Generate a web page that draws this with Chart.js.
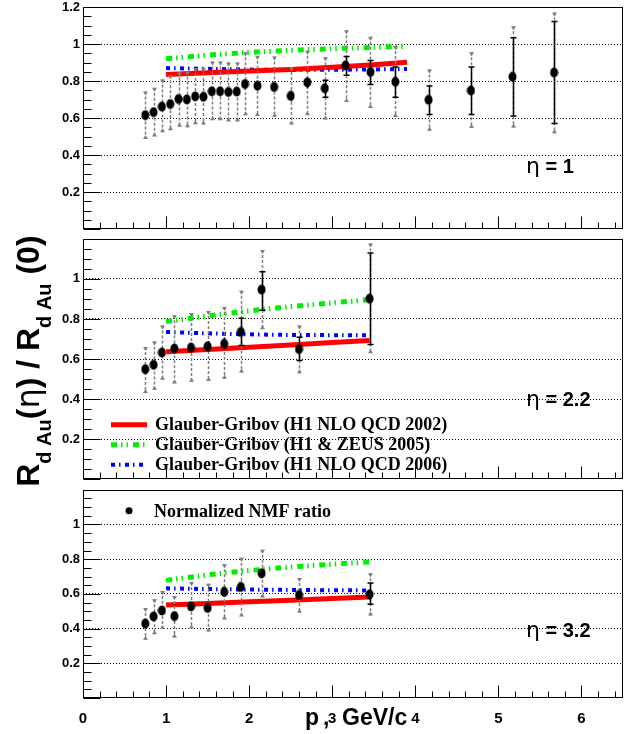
<!DOCTYPE html>
<html>
<head>
<meta charset="utf-8">
<title>R_dAu(eta) / R_dAu(0)</title>
<script src="https://cdn.jsdelivr.net/npm/chart.js@4.4.0/dist/chart.umd.min.js"></script>
<style>
  body { margin: 0; background: #fff; width: 629px; height: 734px; position: relative; overflow: hidden; }
  canvas { position: absolute; left: 0; }
  #eta1 { top: -5px; }
  #eta22 { top: 228px; }
  #eta32 { top: 479px; }
</style>
</head>
<body>
<canvas id="eta1" width="629" height="245"></canvas>
<canvas id="eta22" width="629" height="262"></canvas>
<canvas id="eta32" width="629" height="255"></canvas>
<script>
// ---- eta = 1 : normalized NMF ratio with stat / syst errors
const eta1X = [0.75, 0.85, 0.95, 1.05, 1.15, 1.25, 1.35, 1.45, 1.55, 1.65, 1.75, 1.85, 1.95, 2.1, 2.3, 2.5, 2.7, 2.91, 3.16, 3.46, 3.76, 4.16, 4.67, 5.17, 5.67];
const eta1Y = [0.616, 0.632, 0.662, 0.676, 0.703, 0.701, 0.717, 0.715, 0.745, 0.745, 0.741, 0.743, 0.784, 0.775, 0.768, 0.720, 0.793, 0.761, 0.884, 0.849, 0.796, 0.699, 0.749, 0.823, 0.846];
const eta1StatHi = [0.626, 0.642, 0.672, 0.686, 0.713, 0.711, 0.727, 0.725, 0.755, 0.755, 0.751, 0.753, 0.800, 0.790, 0.785, 0.746, 0.817, 0.805, 0.932, 0.911, 0.876, 0.773, 0.876, 1.034, 1.122];
const eta1StatLo = [0.606, 0.622, 0.652, 0.666, 0.693, 0.691, 0.707, 0.705, 0.735, 0.735, 0.731, 0.733, 0.768, 0.760, 0.752, 0.690, 0.761, 0.712, 0.831, 0.782, 0.712, 0.620, 0.620, 0.611, 0.571];
const eta1SysHi = [0.743, 0.764, 0.808, 0.831, 0.846, 0.852, 0.870, 0.870, 0.905, 0.905, 0.900, 0.900, 0.955, 0.937, 0.932, 0.876, 0.964, 0.929, 1.075, 1.040, 0.990, 0.863, 0.955, 1.096, 1.170];
const eta1SysLo = [0.487, 0.500, 0.523, 0.535, 0.553, 0.551, 0.567, 0.565, 0.588, 0.588, 0.582, 0.582, 0.616, 0.611, 0.607, 0.565, 0.616, 0.593, 0.687, 0.655, 0.606, 0.532, 0.546, 0.549, 0.518];

// ---- eta = 2.2
const eta22X = [0.75, 0.85, 0.95, 1.1, 1.3, 1.5, 1.7, 1.9, 2.15, 2.6, 3.45];
const eta22Y = [0.549, 0.571, 0.632, 0.652, 0.657, 0.663, 0.676, 0.735, 0.946, 0.649, 0.901];
const eta22StatHi = [0.559, 0.581, 0.642, 0.672, 0.675, 0.690, 0.705, 0.803, 1.036, 0.708, 1.129];
const eta22StatLo = [0.539, 0.561, 0.622, 0.632, 0.638, 0.636, 0.647, 0.668, 0.843, 0.592, 0.673];
const eta22SysHi = [0.660, 0.687, 0.767, 0.819, 0.830, 0.840, 0.859, 0.941, 1.144, 0.767, 1.176];
const eta22SysLo = [0.430, 0.446, 0.497, 0.478, 0.486, 0.490, 0.501, 0.533, 0.748, 0.529, 0.629];

// ---- eta = 3.2
const eta32X = [0.75, 0.85, 0.95, 1.1, 1.3, 1.5, 1.7, 1.9, 2.15, 2.6, 3.45];
const eta32Y = [0.429, 0.470, 0.504, 0.472, 0.528, 0.519, 0.611, 0.640, 0.719, 0.594, 0.597];
const eta32StatHi = [0.439, 0.480, 0.514, 0.482, 0.538, 0.529, 0.621, 0.650, 0.745, 0.604, 0.663];
const eta32StatLo = [0.419, 0.460, 0.494, 0.462, 0.518, 0.509, 0.601, 0.630, 0.695, 0.584, 0.541];
const eta32SysHi = [0.519, 0.569, 0.616, 0.588, 0.668, 0.659, 0.771, 0.808, 0.855, 0.691, 0.719];
const eta32SysLo = [0.336, 0.368, 0.398, 0.349, 0.401, 0.383, 0.452, 0.470, 0.579, 0.491, 0.476];

// ---- Glauber-Gribov curves (H1 NLO QCD 2002 / H1 & ZEUS 2005 / H1 NLO QCD 2006)
const ggX1 = [1.0, 1.5, 2.0, 2.5, 3.0, 3.5, 3.9];
const gg2002Eta1 = [0.835, 0.845, 0.855, 0.863, 0.874, 0.888, 0.902];
const gg2005Eta1 = [0.920, 0.940, 0.955, 0.966, 0.975, 0.982, 0.987];
const gg2006Eta1 = [0.870, 0.866, 0.862, 0.860, 0.861, 0.863, 0.865];

const ggX23 = [1.0, 1.5, 2.0, 2.5, 3.0, 3.45];
const gg2002Eta22 = [0.636, 0.647, 0.659, 0.670, 0.682, 0.692];
const gg2005Eta22 = [0.787, 0.815, 0.840, 0.862, 0.880, 0.897];
const gg2006Eta22 = [0.735, 0.728, 0.723, 0.720, 0.719, 0.719];

const gg2002Eta32 = [0.536, 0.545, 0.555, 0.564, 0.574, 0.582];
const gg2005Eta32 = [0.678, 0.710, 0.735, 0.755, 0.771, 0.784];
const gg2006Eta32 = [0.632, 0.628, 0.625, 0.623, 0.621, 0.620];

const legendLabels = ['Glauber-Gribov (H1 NLO QCD 2002)', 'Glauber-Gribov (H1 & ZEUS 2005)', 'Glauber-Gribov (H1 NLO QCD 2006)'];
const dataLabel = 'Normalized NMF ratio';

const RED = '#ff0000', GREEN = '#00ee00', BLUE = '#0000ff', SYS = '#7f7f7f';
const DASH_2005 = [6, 4, 1.5, 4, 1.5, 5];
const DASH_2006 = [4, 4, 1.5, 4.5];
const SANS = '"Liberation Sans", Arial, sans-serif';
const SERIF = '"Liberation Serif", "Times New Roman", serif';

Chart.defaults.font.family = SANS;

// filled ellipse used as the data marker
function markerSprite() {
  const c = document.createElement('canvas');
  c.width = 9; c.height = 11;
  const g = c.getContext('2d');
  g.fillStyle = '#000';
  g.beginPath();
  g.ellipse(4.5, 5.5, 4, 5, 0, 0, 2 * Math.PI);
  g.fill();
  return c;
}
const marker = markerSprite();

function zip(xs, ys) { return xs.map((x, i) => ({ x: x, y: ys[i] })); }

function curve(xs, ys, color, dash, width) {
  return { data: zip(xs, ys), showLine: true, borderColor: color, borderWidth: width,
           borderDash: dash, pointRadius: 0, fill: false, tension: 0 };
}

// systematic (grey dashed with little arrows) and statistical (black) bars,
// drawn just before the markers
const errorBars = {
  id: 'errorBars',
  beforeDatasetDraw(chart, args) {
    const ds = chart.data.datasets[args.index];
    if (!ds.sysHi) return;
    const { ctx } = chart;
    const x = chart.scales.x, y = chart.scales.y;
    ctx.save();
    ds.data.forEach((pt, i) => {
      const px = Math.round(x.getPixelForValue(pt.x)) + 0.5;
      const hi = y.getPixelForValue(ds.sysHi[i]);
      const lo = y.getPixelForValue(ds.sysLo[i]);
      ctx.strokeStyle = SYS;
      ctx.lineWidth = 1.5;
      ctx.setLineDash([3, 2]);
      ctx.beginPath();
      ctx.moveTo(px, hi); ctx.lineTo(px, lo);
      ctx.stroke();
      ctx.setLineDash([]);
      ctx.fillStyle = SYS;
      ctx.beginPath();
      ctx.moveTo(px - 2.5, hi); ctx.lineTo(px + 2.5, hi); ctx.lineTo(px, hi + 4); ctx.closePath();
      ctx.moveTo(px - 2.5, lo); ctx.lineTo(px + 2.5, lo); ctx.lineTo(px, lo - 4); ctx.closePath();
      ctx.fill();

      const sh = y.getPixelForValue(ds.statHi[i]);
      const sl = y.getPixelForValue(ds.statLo[i]);
      ctx.strokeStyle = '#000';
      ctx.lineWidth = 1.5;
      ctx.beginPath();
      ctx.moveTo(px, sh); ctx.lineTo(px, sl);
      if (sl - sh > 12) {
        ctx.moveTo(px - 3, sh); ctx.lineTo(px + 3, sh);
        ctx.moveTo(px - 3, sl); ctx.lineTo(px + 3, sl);
      }
      ctx.stroke();
    });
    ctx.restore();
  }
};

// box around the pad plus ROOT-style inner tick marks
const frame = {
  id: 'frame',
  afterDatasetsDraw(chart) {
    const { ctx, chartArea: a } = chart;
    const x = chart.scales.x, y = chart.scales.y;
    const L = Math.round(a.left) + 0.5, R = Math.round(a.right) - 0.5;
    const T = Math.round(a.top) + 0.5, B = Math.round(a.bottom) - 0.5;
    ctx.save();
    ctx.strokeStyle = '#000';
    ctx.lineWidth = 1;
    ctx.strokeRect(L, T, R - L, B - T);
    ctx.beginPath();
    for (let i = 0; i <= 24; i++) {
      const py = Math.round(y.getPixelForValue(i * 0.05)) + 0.5;
      ctx.moveTo(L, py); ctx.lineTo(L + (i % 4 === 0 ? 17 : 8), py);
    }
    for (let i = 0; i <= 32; i++) {
      const px = Math.round(x.getPixelForValue(i * 0.2)) + 0.5;
      ctx.moveTo(px, B); ctx.lineTo(px, B - (i % 5 === 0 ? 12 : 6));
    }
    ctx.stroke();
    ctx.restore();
  }
};

function etaLabel(ctx, left, base, value) {
  ctx.fillStyle = '#000';
  ctx.textBaseline = 'alphabetic';
  ctx.font = '22px "DejaVu Sans"';
  ctx.fillText('η', left, base);
  const w = ctx.measureText('η').width;
  ctx.font = 'bold 20px ' + SANS;
  ctx.fillText(' = ' + value, left + w, base);
}

function panel(id, cfg) {
  const points = {
    label: dataLabel,
    data: zip(cfg.x, cfg.y),
    pointStyle: marker,
    pointRadius: 5,
    showLine: false,
    statHi: cfg.statHi, statLo: cfg.statLo,
    sysHi: cfg.sysHi, sysLo: cfg.sysLo
  };
  const labelTop = cfg.topLabel ? 1.25 : 1.1;
  return new Chart(document.getElementById(id), {
    type: 'scatter',
    data: {
      datasets: [
        points,
        curve(cfg.ggX, cfg.gg2002, RED, [], 5),
        curve(cfg.ggX, cfg.gg2005, GREEN, DASH_2005, 5),
        curve(cfg.ggX, cfg.gg2006, BLUE, DASH_2006, 4)
      ]
    },
    options: {
      responsive: false,
      animation: false,
      events: [],
      layout: { padding: { top: cfg.padTop, right: 3, bottom: cfg.padBottom, left: 0 } },
      plugins: { legend: { display: false }, tooltip: { enabled: false } },
      scales: {
        x: {
          type: 'linear', min: 0, max: 6.5,
          afterFit: s => { s.height = cfg.xAxisHeight; },
          grid: { display: false },
          border: { display: false },
          ticks: {
            display: cfg.xLabels, stepSize: 1, padding: 4, autoSkip: false, maxRotation: 0,
            color: '#000', font: { family: SANS, weight: 'bold', size: 15 },
            callback: v => Number.isInteger(v) ? String(v) : ''
          }
        },
        y: {
          type: 'linear', min: 0, max: 1.2,
          afterFit: s => { s.width = 83; },
          grid: {
            drawTicks: false, lineWidth: 1,
            color: c => (c.tick.value > 0.1 && c.tick.value < 1.1) ? '#000' : 'rgba(0,0,0,0)'
          },
          border: { display: false, dash: [1, 2] },
          ticks: {
            stepSize: 0.2, padding: 3, autoSkip: false,
            color: '#000', font: { family: SANS, weight: 'bold', size: 13 },
            callback: v => (v > 0.1 && v < labelTop) ? String(+v.toFixed(1)) : ''
          }
        }
      }
    },
    plugins: [errorBars, frame, { id: 'notes', afterDraw: chart => cfg.notes(chart.ctx, chart.chartArea) }]
  });
}

panel('eta1', {
  x: eta1X, y: eta1Y, statHi: eta1StatHi, statLo: eta1StatLo, sysHi: eta1SysHi, sysLo: eta1SysLo,
  ggX: ggX1, gg2002: gg2002Eta1, gg2005: gg2005Eta1, gg2006: gg2006Eta1,
  padTop: 12, padBottom: 6, xAxisHeight: 0, xLabels: false, topLabel: true,
  notes: (ctx, a) => {
    ctx.save();
    etaLabel(ctx, a.left + 443, a.top + 166, '1');
    ctx.restore();
  }
});

panel('eta22', {
  x: eta22X, y: eta22Y, statHi: eta22StatHi, statLo: eta22StatLo, sysHi: eta22SysHi, sysLo: eta22SysLo,
  ggX: ggX23, gg2002: gg2002Eta22, gg2005: gg2005Eta22, gg2006: gg2006Eta22,
  padTop: 6, padBottom: 5, xAxisHeight: 0, xLabels: false, topLabel: false,
  notes: (ctx, a) => {
    ctx.save();
    etaLabel(ctx, a.left + 443, a.top + 167, '2.2');

    // legend of the three model curves
    const rows = [[RED, [], 5], [GREEN, DASH_2005, 5], [BLUE, DASH_2006, 4]];
    rows.forEach((r, i) => {
      const ly = a.top + 186 + i * 20;
      ctx.strokeStyle = r[0];
      ctx.lineWidth = r[2];
      ctx.setLineDash(r[1]);
      ctx.beginPath();
      ctx.moveTo(a.left + 28, ly); ctx.lineTo(a.left + 64, ly);
      ctx.stroke();
      ctx.setLineDash([]);
      ctx.fillStyle = '#000';
      ctx.font = 'bold 18px ' + SERIF;
      ctx.fillText(legendLabels[i], a.left + 72, ly + 5);
    });

    // y axis title, rotated, shared by all three pads
    ctx.translate(39, a.top + 248);
    ctx.rotate(-Math.PI / 2);
    const big = 'bold 32px ' + SANS, sub = 'bold 20px ' + SANS, greek = '32px "DejaVu Sans"';
    const parts = [[big, 'R', 0], [sub, 'd Au', 12], [big, '(', 0], [greek, 'η', 0],
                   [big, ') / R', 0], [sub, 'd Au', 12], [big, ' (0)', 0]];
    let cx = 0;
    parts.forEach(p => {
      ctx.font = p[0];
      ctx.fillText(p[1], cx, p[2]);
      cx += ctx.measureText(p[1]).width;
    });
    ctx.restore();
  }
});

panel('eta32', {
  x: eta32X, y: eta32Y, statHi: eta32StatHi, statLo: eta32StatLo, sysHi: eta32SysHi, sysLo: eta32SysLo,
  ggX: ggX23, gg2002: gg2002Eta32, gg2005: gg2005Eta32, gg2006: gg2006Eta32,
  padTop: 6, padBottom: 0, xAxisHeight: 36, xLabels: true, topLabel: false,
  notes: (ctx, a) => {
    ctx.save();
    etaLabel(ctx, a.left + 443, a.top + 147, '3.2');

    ctx.fillStyle = '#000';
    ctx.beginPath();
    ctx.arc(a.left + 46, a.top + 21, 3.5, 0, 2 * Math.PI);
    ctx.fill();
    ctx.font = 'bold 18px ' + SERIF;
    ctx.fillText(dataLabel, a.left + 71, a.top + 27);

    // x axis title
    ctx.font = 'bold 23px ' + SANS;
    ctx.fillText('p', a.left + 222, a.bottom + 27);
    ctx.fillText(',', a.left + 240, a.bottom + 27);
    ctx.fillText('GeV/c', a.left + 259, a.bottom + 27);
    ctx.restore();
  }
});
</script>
</body>
</html>
